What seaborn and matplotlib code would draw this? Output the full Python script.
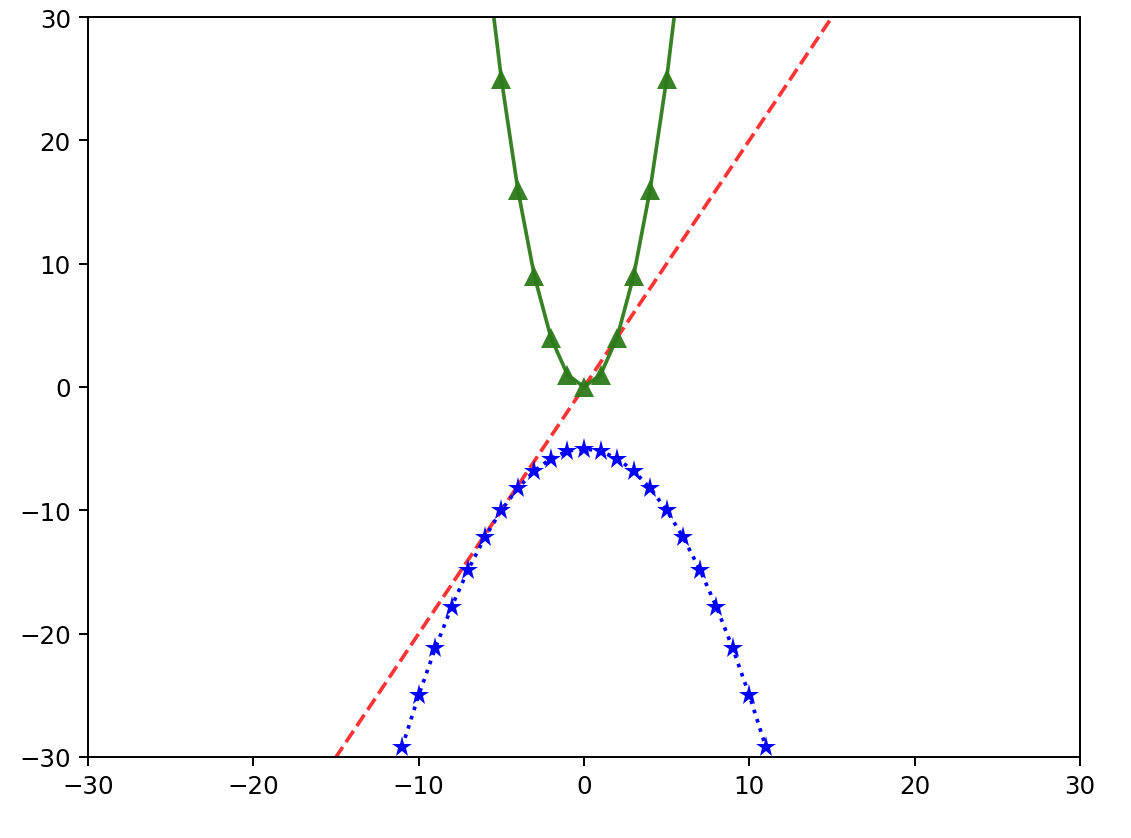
import numpy as np
import pandas as pd
import seaborn as sns
import matplotlib.pyplot as plt

# data
x_lin = [-30, 30]
y_lin = [-60, 60]

x_sq = [-6, -5, -4, -3, -2, -1, 0, 1, 2, 3, 4, 5, 6]
y_sq = [36, 25, 16, 9, 4, 1, 0, 1, 4, 9, 16, 25, 36]

x_par = [-11, -10, -9, -8, -7, -6, -5, -4, -3, -2, -1, 0,
         1, 2, 3, 4, 5, 6, 7, 8, 9, 10, 11]
y_par = [-29.2, -25.0, -21.2, -17.8, -14.8, -12.2, -10.0, -8.2, -6.8, -5.8, -5.2, -5.0,
         -5.2, -5.8, -6.8, -8.2, -10.0, -12.2, -14.8, -17.8, -21.2, -25.0, -29.2]

fig = plt.figure(figsize=(1131 / 176, 839 / 176), dpi=176)
ax = fig.add_axes([88 / 1131, 1 - 758 / 839, (1080 - 88) / 1131, (758 - 18) / 839])

sns.lineplot(x=x_lin, y=y_lin, ax=ax, color='red', alpha=0.8, linestyle='--')
sns.lineplot(x=x_sq, y=y_sq, ax=ax, color='#2d7a1a', alpha=0.95, marker='^',
             markersize=8, markeredgewidth=0)
sns.lineplot(x=x_par, y=y_par, ax=ax, color='blue', linestyle=':', marker='*',
             markersize=9, markeredgewidth=0)

ax.set_xlim(-30, 30)
ax.set_ylim(-30, 30)
ax.set_xticks(np.arange(-30, 31, 10))
ax.set_yticks(np.arange(-30, 31, 10))

plt.savefig('out.png', dpi=176)
